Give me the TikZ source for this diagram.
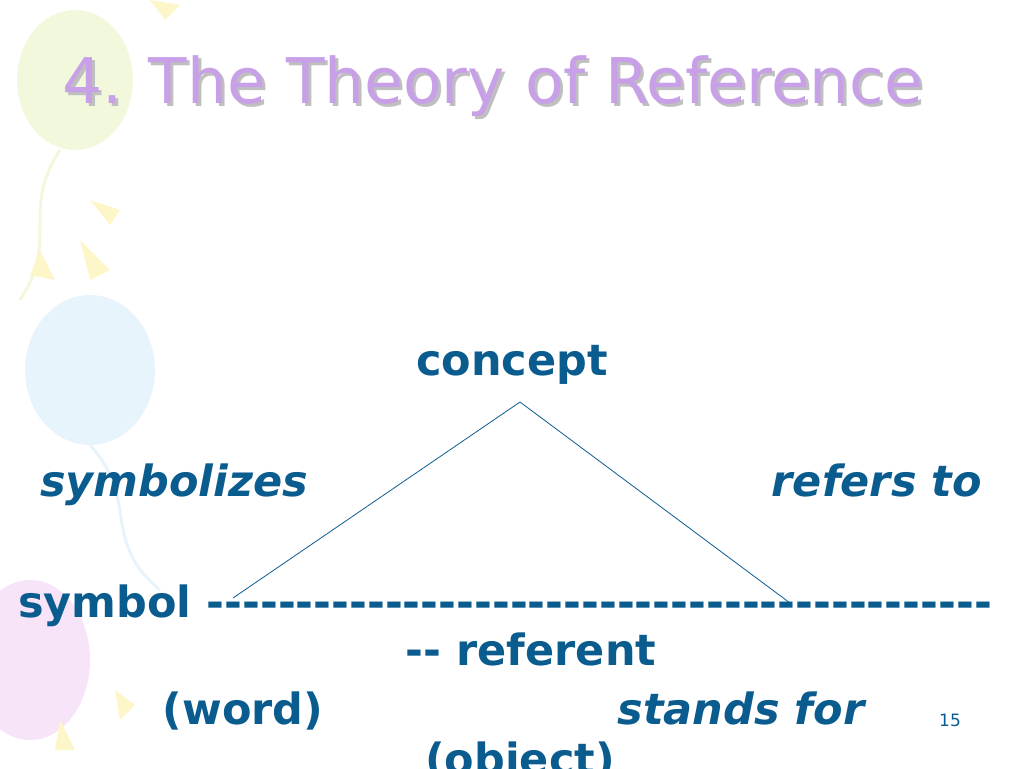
\documentclass[tikz,border=0pt]{standalone}
\usepackage{fontspec}
\setmainfont{DejaVu Sans}
\begin{document}
\begin{tikzpicture}[x=1pt,y=-1pt,
  body/.style={text=txt,font=\fontsize{43}{46}\selectfont\bfseries,inner sep=0pt,anchor=base},
  ital/.style={body,font=\fontsize{43}{46}\selectfont\bfseries\itshape},
  edge/.style={draw=txt,line width=0.8pt}]
\definecolor{txt}{HTML}{0B5C8E}
\definecolor{ttl}{HTML}{C8A0E8}
\definecolor{bal1}{HTML}{F2F8DC}
\definecolor{bal2}{HTML}{E8F4FC}
\definecolor{bal3}{HTML}{F8E4F8}
\definecolor{yel}{HTML}{FCF6C8}
\useasboundingbox (0,0) rectangle (1024,768);
% background decorations
\fill[bal1] (75,80) ellipse (58 and 70);
\draw[bal1,line width=3pt] (60,150) .. controls (20,210) and (60,240) .. (20,300);
\fill[bal2] (90,370) ellipse (65 and 75);
\draw[bal2,line width=3pt] (90,445) .. controls (140,500) and (100,540) .. (160,590);
\fill[bal3] (30,660) ellipse (60 and 80);
\fill[yel] (150,0) -- (165,20) -- (180,5) -- cycle;
\fill[yel] (90,200) -- (120,210) -- (110,225) -- cycle;
\fill[yel] (40,250) -- (55,280) -- (30,275) -- cycle;
\fill[yel] (80,240) -- (110,270) -- (90,280) -- cycle;
\fill[yel] (115,690) -- (135,705) -- (120,720) -- cycle;
\fill[yel] (60,720) -- (75,750) -- (55,750) -- cycle;
% title
\node[anchor=base west,inner sep=0pt,font=\fontsize{63}{66}\selectfont,text=black!25] at (65,106) {4. The Theory of Reference};
\node[anchor=base west,inner sep=0pt,font=\fontsize{63}{66}\selectfont,text=ttl] (title) at (62,103) {4. The Theory of Reference};
% texts
\node[body] (concept) at (512,375) {concept};
\node[ital,anchor=base west] (symbolizes) at (40,496) {symbolizes};
\node[ital,anchor=base east] (refersto) at (982,496) {refers to};
\node[body,anchor=base west] (symbol) at (18,617) {symbol -{}-{}-{}-{}-{}-{}-{}-{}-{}-{}-{}-{}-{}-{}-{}-{}-{}-{}-{}-{}-{}-{}-{}-{}-{}-{}-{}-{}-{}-{}-{}-{}-{}-{}-{}-{}-{}-{}-{}-{}-{}-{}-{}-{}};
\node[body] (referent) at (531,665) {-{}- referent};
\node[body] (word) at (243,724) {(word)};
\node[ital] (standsfor) at (741,724) {stands for};
\node[body] (object) at (520,774) {(object)};
\node[anchor=base,inner sep=0pt,font=\fontsize{17}{20}\selectfont,text=txt] (num) at (950,726) {15};
% triangle
\coordinate (apex) at (520,402);
\coordinate (left) at (233,598);
\coordinate (right) at (790,603);
\draw[edge] (left) -- (apex) -- (right);
\end{tikzpicture}
\end{document}
